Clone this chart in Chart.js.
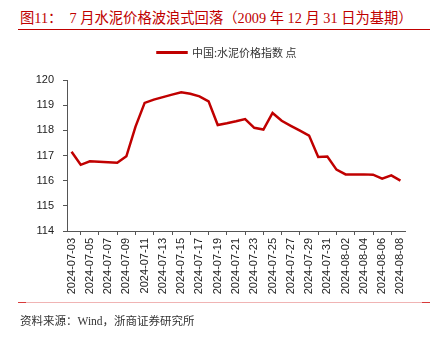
<!DOCTYPE html>
<html>
<head>
<meta charset="utf-8">
<script src="https://cdn.jsdelivr.net/npm/chart.js@4.4.1/dist/chart.umd.min.js"></script>
<style>
  html, body { margin: 0; padding: 0; background: #fff; }
  #page { position: relative; width: 435px; height: 337px; overflow: hidden; }
  #chartDiv { position: absolute; left: 0; top: 0; width: 435px; height: 337px; }
  #title {
    position: absolute; left: 20px; top: 6px; white-space: pre;
    font-family: "Liberation Serif", "Noto Sans CJK SC", serif;
    font-size: 14.3px; color: #c00000;
  }
  #titleRule { position: absolute; left: 18px; top: 29px; width: 412px; height: 1px; background: #c00000; }
  #footRule { position: absolute; left: 18px; top: 302px; width: 412px; height: 1px; background: #f0b4b4; }
  .footEnd { position: absolute; top: 302px; width: 8px; height: 1px; background: #d83a3a; }
  #source {
    position: absolute; left: 20px; top: 312px; white-space: pre;
    font-family: "Liberation Serif", "Noto Sans CJK SC", serif;
    font-size: 11.5px; color: #333;
  }
</style>
</head>
<body>
<div id="page">
  <div id="title">图11：  7 月水泥价格波浪式回落（2009 年 12 月 31 日为基期）</div>
  <div id="titleRule"></div>
  <div id="chartDiv"><canvas id="myChart"></canvas></div>
  <div id="footRule"></div>
  <div class="footEnd" style="left:18px"></div>
  <div class="footEnd" style="left:422px"></div>
  <div id="source">资料来源：Wind，浙商证券研究所</div>
</div>
<script>
const canvas = document.getElementById('myChart');

const seriesName = '中国:水泥价格指数 点';
const dates = [
  '2024-07-03', '2024-07-04', '2024-07-05', '2024-07-06', '2024-07-07', '2024-07-08',
  '2024-07-09', '2024-07-10', '2024-07-11', '2024-07-12', '2024-07-13', '2024-07-14',
  '2024-07-15', '2024-07-16', '2024-07-17', '2024-07-18', '2024-07-19', '2024-07-20',
  '2024-07-21', '2024-07-22', '2024-07-23', '2024-07-24', '2024-07-25', '2024-07-26',
  '2024-07-27', '2024-07-28', '2024-07-29', '2024-07-30', '2024-07-31', '2024-08-01',
  '2024-08-02', '2024-08-03', '2024-08-04', '2024-08-05', '2024-08-06', '2024-08-07',
  '2024-08-08'
];
const cementIndex = [
  117.15, 116.63, 116.77, 116.75, 116.73, 116.71,
  116.97, 118.15, 119.09, 119.22, 119.32, 119.42,
  119.51, 119.45, 119.35, 119.15, 118.21, 118.28,
  118.36, 118.45, 118.10, 118.03, 118.69, 118.38,
  118.18, 117.99, 117.79, 116.94, 116.96, 116.44,
  116.25, 116.25, 116.25, 116.24, 116.08, 116.21,
  116.00
];
const yTicks = [114, 115, 116, 117, 118, 119, 120];

const red = '#c00000';
const axisGrey = '#555';
const tickFont = { family: '"Liberation Sans", Arial, sans-serif', size: 11 };

// more room under the legend, and nudge it right a bit
const legendTweak = {
  id: 'legendTweak',
  beforeInit(chart) {
    const fit = chart.legend.fit;
    chart.legend.fit = function () {
      fit.bind(chart.legend)();
      this.height += 12;
    };
  },
  afterLayout(chart) {
    chart.legend.left += 7;
    chart.legend.right += 7;
  }
};

const config = {
  type: 'line',
  data: {
    labels: dates,
    datasets: [{
      label: seriesName,
      data: cementIndex,
      borderColor: red,
      backgroundColor: red,
      borderWidth: 2.5,
      pointRadius: 0,
      tension: 0
    }]
  },
  options: {
    animation: false,
    responsive: true,
    maintainAspectRatio: false,
    layout: {
      padding: { left: 35, right: 30, top: 37, bottom: 36 }
    },
    plugins: {
      tooltip: { enabled: false },
      legend: {
        labels: {
          boxWidth: 29,
          boxHeight: 0.5,
          padding: 10,
          color: '#333',
          font: { family: '"Noto Sans CJK SC", sans-serif', size: 11 }
        }
      }
    },
    scales: {
      x: {
        offset: true,
        afterFit: s => { s.height = 70; },
        grid: {
          offset: true,
          drawOnChartArea: false,
          drawTicks: true,
          tickLength: 4,
          color: axisGrey
        },
        border: { color: axisGrey, width: 1 },
        ticks: {
          autoSkip: false,
          maxRotation: 90,
          minRotation: 90,
          padding: 3,
          color: '#222',
          font: tickFont,
          callback: (v, i) => (i % 2 === 0 ? dates[i] : null)
        }
      },
      y: {
        min: yTicks[0],
        max: yTicks[yTicks.length - 1],
        afterFit: s => { s.width = 32; },
        afterBuildTicks: s => { s.ticks = yTicks.map(v => ({ value: v })); },
        grid: {
          drawOnChartArea: false,
          drawTicks: true,
          tickLength: 4,
          color: axisGrey
        },
        border: { color: axisGrey, width: 1 },
        ticks: {
          padding: 9,
          color: '#222',
          font: tickFont
        }
      }
    }
  },
  plugins: [legendTweak]
};

const myChart = new Chart(canvas, config);
</script>
</body>
</html>
